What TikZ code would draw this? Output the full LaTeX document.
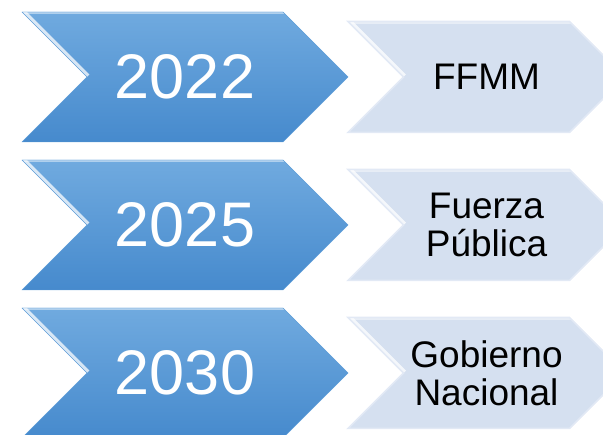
\documentclass[tikz,border=0pt]{standalone}
\usepackage{fontspec}
\setmainfont{Liberation Sans}
\usetikzlibrary{shapes.symbols}

\begin{document}
\begin{tikzpicture}[x=1pt,y=-1pt]
    % Colours of the two chevron kinds
    \definecolor{yeartop}{RGB}{112,170,223}
    \definecolor{yearbottom}{RGB}{70,138,205}
    \definecolor{yearline}{RGB}{96,158,216}
    \definecolor{actorfill}{RGB}{213,224,240}
    \definecolor{actorline}{RGB}{226,233,245}

    % Chevron styles
    \tikzset{
        bevel/.style={
            path picture={
                \draw[white, opacity=0.75, line width=7pt]
                    ([xshift=#1]path picture bounding box.west)
                    -- (path picture bounding box.north west);
                \draw[white, opacity=0.45, line width=5pt]
                    (path picture bounding box.north west)
                    -- (path picture bounding box.north east);
            }
        },
        year/.style={
            signal,
            signal from=west,
            signal to=east,
            signal pointer angle=90,
            minimum width=326pt,
            minimum height=130pt,
            inner sep=0pt,
            top color=yeartop,
            bottom color=yearbottom,
            draw=yearline,
            bevel=65pt,
            text=white,
            font=\fontsize{63}{63}\selectfont
        },
        actor/.style={
            signal,
            signal from=west,
            signal to=east,
            signal pointer angle=90,
            minimum width=277pt,
            minimum height=111pt,
            inner sep=0pt,
            fill=actorfill,
            draw=actorline,
            line width=1.5pt,
            bevel=55.5pt,
            align=center,
            text=black,
            font=\fontsize{37}{38}\selectfont
        }
    }

    % Frame of the picture
    \useasboundingbox (0,0) rectangle (603,435);

    % Years (left column)
    \node[year] (y2022) at (185,77) {2022};
    \node[year] (y2025) at (185,225) {2025};
    \node[year] (y2030) at (185,373) {2030};

    % Who is concerned (right column)
    \node[actor] (ffmm) at (486.5,77) {FFMM};
    \node[actor] (fuerza) at (486.5,225) {Fuerza\\Pública};
    \node[actor] (gobierno) at (486.5,373) {Gobierno\\Nacional};

\end{tikzpicture}
\end{document}
